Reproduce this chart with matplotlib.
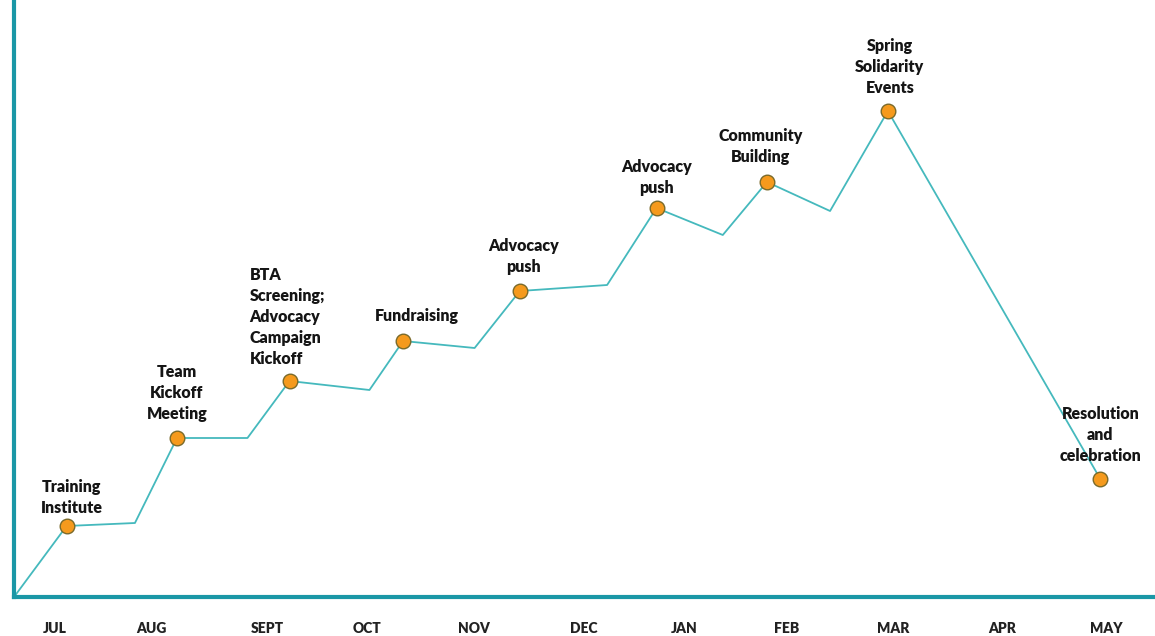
import matplotlib
matplotlib.use('Agg')
import matplotlib.pyplot as plt

# DADOS
meses = ['JUL', 'AUG', 'SEPT', 'OCT', 'NOV', 'DEC', 'JAN', 'FEB', 'MAR', 'APR', 'MAY']
pos_meses = [0, 0.92, 2.02, 2.97, 3.98, 5.03, 5.98, 6.96, 7.97, 9.01, 10]

# posição (em meses a partir de JUL) e nível de cada vértice da linha
x_linha = [-0.39, 0.11, 0.76, 1.16, 1.83, 2.23, 2.99, 3.31, 3.99, 4.42, 5.25, 5.72, 6.35, 6.77, 7.37, 7.92, 9.94]
y_linha = [0, 71, 74, 159, 159, 216, 207, 256, 249, 306, 312, 389, 362, 415, 386, 486, 118]

# índices dos vértices que são eventos (marcadores)
idx_eventos = [1, 3, 5, 7, 9, 11, 13, 15, 16]
eventos = ['Training\nInstitute', 'Team\nKickoff\nMeeting', 'BTA\nScreening;\nAdvocacy\nCampaign\nKickoff',
           'Fundraising', 'Advocacy\npush', 'Advocacy\npush', 'Community\nBuilding',
           'Spring\nSolidarity\nEvents', 'Resolution\nand\ncelebration']

plt.rcParams['font.family'] = ['Lato', 'DejaVu Sans']

fig = plt.figure(figsize=(11.55, 6.36), dpi=100)
ax = fig.add_axes([14 / 1155, 39 / 636, 1 - 14 / 1155, 1 - 39 / 636])

cor_linha = '#45b9bd'
cor_eixo = '#1a97a6'

ax.plot(x_linha, y_linha, color=cor_linha, linewidth=1.3, zorder=2)
ax.plot([x_linha[i] for i in idx_eventos], [y_linha[i] for i in idx_eventos], 'o',
        markersize=10.5, markerfacecolor='#f59a1d', markeredgecolor='#7a6a2a',
        markeredgewidth=1.0, zorder=3)

# deslocamentos dos rótulos em pixels (x, y) e alinhamento
desloc = [(5, 10), (0, 16), (-40, 14), (14, 17), (4, 16), (0, 12), (-6, 17), (2, 15), (0, 15)]
alinh = ['center', 'center', 'left', 'center', 'center', 'center', 'center', 'center', 'center']

for k, i in enumerate(idx_eventos):
    ax.annotate(eventos[k], xy=(x_linha[i], y_linha[i]), xytext=desloc[k],
                textcoords='offset pixels', ha=alinh[k], va='bottom',
                multialignment='center' if alinh[k] == 'center' else 'left',
                fontsize=11.5, fontweight='heavy', color='#151515', linespacing=1.38, zorder=4)

ax.set_xlim(-0.39, 10.46)
ax.set_ylim(0, 597)
ax.set_xticks(pos_meses)
ax.set_xticklabels(meses, fontsize=10, fontweight='heavy', color='#222222')
ax.tick_params(axis='x', length=0, pad=18)
ax.set_yticks([])

for lado in ['top', 'right']:
    ax.spines[lado].set_visible(False)
for lado in ['left', 'bottom']:
    ax.spines[lado].set_color(cor_eixo)
    ax.spines[lado].set_linewidth(3)

fig.savefig('out.png', dpi=100)
